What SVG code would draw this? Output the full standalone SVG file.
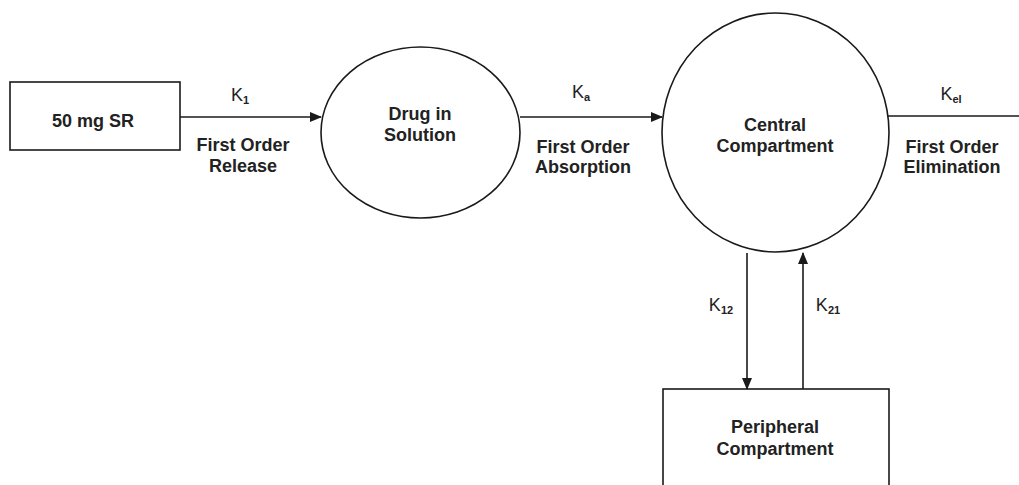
<svg xmlns="http://www.w3.org/2000/svg" width="1019" height="485" viewBox="0 0 1019 485">
<style>
.s{fill:none;stroke:#1a1a1a;stroke-width:1.6}
.t{font-family:"Liberation Sans",Arial,sans-serif;font-weight:bold;font-size:18px;fill:#222;text-anchor:middle}
.k{font-family:"Liberation Sans",Arial,sans-serif;font-size:18px;fill:#222;text-anchor:middle}
.sub{font-size:11px;font-weight:bold}
</style>
<defs>
<marker id="ah" markerWidth="12" markerHeight="10" refX="11" refY="5" orient="auto" markerUnits="userSpaceOnUse">
<path d="M0,0 L12,5 L0,10 Z" fill="#1a1a1a"/>
</marker>
</defs>
<rect width="1019" height="485" fill="#fff"/>
<g id="connectors">
<line class="s" x1="180" y1="117" x2="321" y2="117" marker-end="url(#ah)"/>
<line class="s" x1="520" y1="117" x2="662" y2="117" marker-end="url(#ah)"/>
<line class="s" x1="888" y1="116" x2="1019" y2="116"/>
<line class="s" x1="747" y1="253" x2="747" y2="389" marker-end="url(#ah)"/>
<line class="s" x1="803" y1="389" x2="803" y2="253" marker-end="url(#ah)"/>
<text class="k" x="240" y="101">K<tspan class="sub" dy="3">1</tspan></text>
<text class="t" x="243" y="151">First Order</text>
<text class="t" x="243" y="172">Release</text>
<text class="k" x="581" y="98">K<tspan class="sub" dy="3">a</tspan></text>
<text class="t" x="583" y="153">First Order</text>
<text class="t" x="583" y="173">Absorption</text>
<text class="k" x="951" y="100">K<tspan class="sub" dy="3">el</tspan></text>
<text class="t" x="952" y="153">First Order</text>
<text class="t" x="952" y="173">Elimination</text>
<text class="k" x="721" y="311">K<tspan class="sub" dy="3">12</tspan></text>
<text class="k" x="828" y="311">K<tspan class="sub" dy="3">21</tspan></text>
</g>
<g id="n1">
<rect class="s" x="10" y="82" width="170" height="68"/>
<text class="t" x="93" y="127">50 mg SR</text>
</g>
<g id="n2">
<ellipse class="s" cx="420.5" cy="132.5" rx="99.5" ry="85.5"/>
<text class="t" x="420" y="120">Drug in</text>
<text class="t" x="420" y="141">Solution</text>
</g>
<g id="n3">
<ellipse class="s" cx="775.5" cy="132.5" rx="113.5" ry="119.5"/>
<text class="t" x="775" y="131">Central</text>
<text class="t" x="775" y="152">Compartment</text>
</g>
<g id="n4">
<rect class="s" x="663" y="389" width="226" height="110"/>
<text class="t" x="775" y="433">Peripheral</text>
<text class="t" x="775" y="455">Compartment</text>
</g>
</svg>
